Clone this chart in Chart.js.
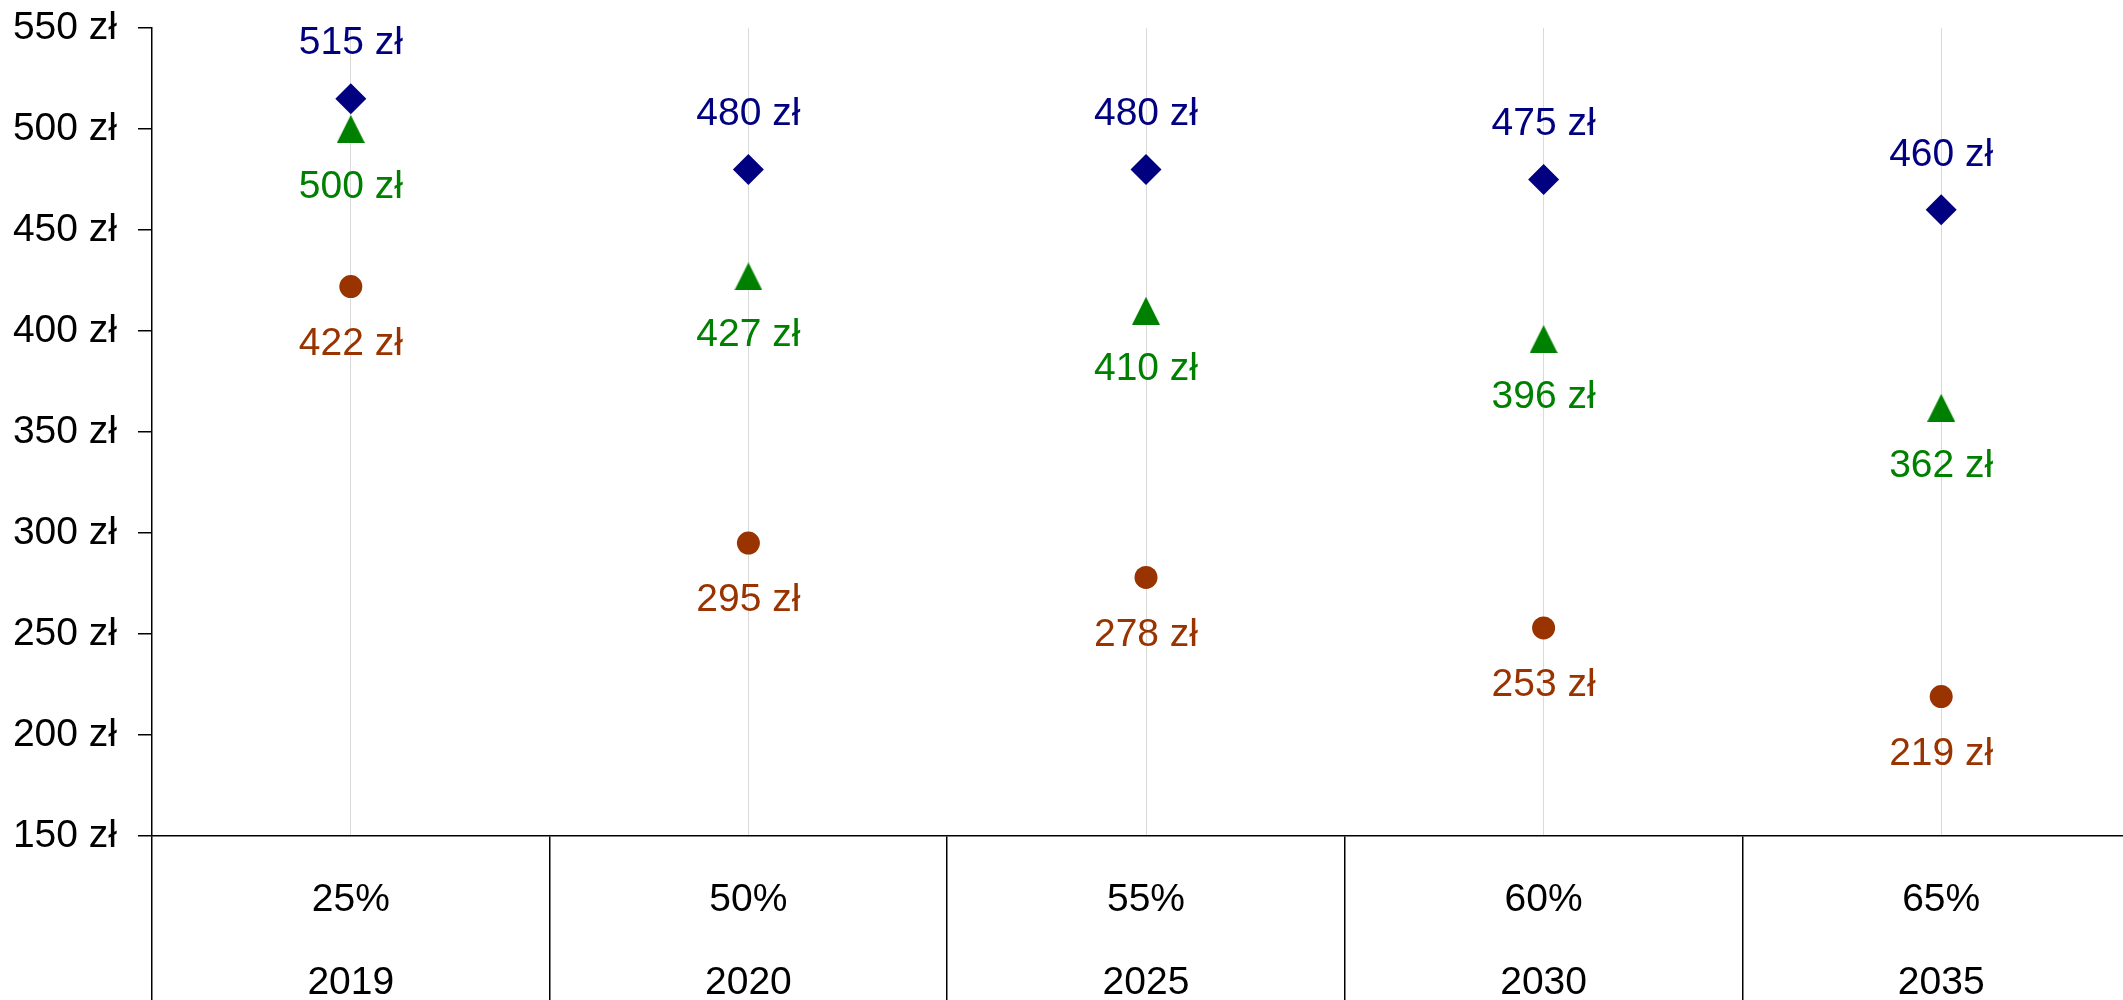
<!DOCTYPE html>
<html>
<head>
<meta charset="utf-8">
<script src="https://cdn.jsdelivr.net/npm/chart.js@4.4.1/dist/chart.umd.min.js"></script>
<style>
  html, body { margin: 0; padding: 0; background: #fff; overflow: hidden; }
  canvas { display: block; }
</style>
</head>
<body>
<!-- a bit wider than the window: the last category is cut at the right edge -->
<canvas id="priceChart" width="2140" height="1000"></canvas>
<script>
// categories: share + year
const shares = ['25%', '50%', '55%', '60%', '65%'];
const years = ['2019', '2020', '2025', '2030', '2035'];

// series values (zł)
const seriesTop = [515, 480, 480, 475, 460];
const seriesMid = [500, 427, 410, 396, 362];
const seriesLow = [422, 295, 278, 253, 219];

// y axis ticks
const yTicks = [150, 200, 250, 300, 350, 400, 450, 500, 550];

const FONT = "'Liberation Sans', Arial, sans-serif";
const FONT_SIZE = 39;
const COLORS = {
  navy: '#000080',
  green: '#008000',
  brown: '#993300',
  grid: '#d9d9d9',
  axis: '#000000',
};

// triangle marker, a bit taller than the built-in equilateral one
function triangleMarker(w, h, color) {
  const c = document.createElement('canvas');
  c.width = w;
  c.height = h;
  const g = c.getContext('2d');
  g.fillStyle = color;
  g.beginPath();
  g.moveTo(0, h);
  g.lineTo(w / 2, 0);
  g.lineTo(w, h);
  g.closePath();
  g.fill();
  return c;
}

const labels = shares.map((s, i) => [s, years[i]]);

// draws "xxx zł" next to each point, offset per dataset
const valueLabels = {
  id: 'valueLabels',
  afterDatasetsDraw(chart) {
    const ctx = chart.ctx;
    ctx.save();
    ctx.font = FONT_SIZE + 'px ' + FONT;
    ctx.textAlign = 'center';
    ctx.textBaseline = 'middle';
    chart.data.datasets.forEach((ds, i) => {
      const meta = chart.getDatasetMeta(i);
      ctx.fillStyle = ds.labelColor;
      meta.data.forEach((pt, j) => {
        ctx.fillText(ds.data[j] + ' zł', pt.x, pt.y + ds.labelOffset);
      });
    });
    ctx.restore();
  }
};

new Chart(document.getElementById('priceChart'), {
  type: 'line',
  data: {
    labels,
    datasets: [
      {
        data: seriesMid,
        showLine: false,
        order: 0,
        pointStyle: triangleMarker(28, 28, COLORS.green),
        pointRadius: 14,
        labelColor: COLORS.green,
        labelOffset: 58.5,
      },
      {
        data: seriesTop,
        showLine: false,
        order: 1,
        pointStyle: 'rectRot',
        pointRadius: 15.5,
        pointBackgroundColor: COLORS.navy,
        pointBorderWidth: 0,
        labelColor: COLORS.navy,
        labelOffset: -55,
      },
      {
        data: seriesLow,
        showLine: false,
        order: 2,
        pointStyle: 'circle',
        pointRadius: 11.5,
        pointBackgroundColor: COLORS.brown,
        pointBorderWidth: 0,
        labelColor: COLORS.brown,
        labelOffset: 57.5,
      },
    ]
  },
  options: {
    responsive: false,
    devicePixelRatio: 1,
    animation: false,
    events: [],
    layout: { autoPadding: false, padding: { top: 28, right: 0, bottom: 0, left: 0 } },
    plugins: {
      legend: { display: false },
      tooltip: { enabled: false },
    },
    scales: {
      x: {
        type: 'category',
        position: 'bottom',
        offset: true,
        afterFit: s => { s.height = 164; s.paddingLeft = 0; s.paddingRight = 0; },
        border: { display: true, color: COLORS.axis, width: 1.5 },
        grid: {
          offset: true,
          drawOnChartArea: false,
          drawTicks: true,
          tickLength: 164,
          color: COLORS.axis,
          lineWidth: 1.5,
        },
        ticks: {
          color: '#000',
          maxRotation: 0,
          autoSkip: false,
          padding: -141.5,
          font: { family: FONT, size: FONT_SIZE, lineHeight: '83px' },
        },
      },
      xc: {
        type: 'category',
        position: 'top',
        labels: years,
        offset: true,
        afterFit: s => { s.height = 0; s.paddingLeft = 0; s.paddingRight = 0; },
        border: { display: false },
        grid: { offset: false, drawTicks: false, color: COLORS.grid, lineWidth: 1 },
        ticks: { display: false },
      },
      y: {
        min: yTicks[0],
        max: yTicks[yTicks.length - 1],
        afterFit: s => { s.width = 152; s.paddingTop = 0; s.paddingBottom = 0; },
        afterBuildTicks: s => { s.ticks = yTicks.map(v => ({ value: v })); },
        border: { display: true, color: COLORS.axis, width: 1.5 },
        grid: {
          drawOnChartArea: false,
          drawTicks: true,
          tickLength: 14,
          color: COLORS.axis,
          lineWidth: 1.5,
        },
        ticks: {
          color: '#000',
          padding: 21,
          font: { family: FONT, size: FONT_SIZE },
          callback: v => v + ' zł',
        },
      },
    },
  },
  plugins: [valueLabels],
});
</script>
</body>
</html>
